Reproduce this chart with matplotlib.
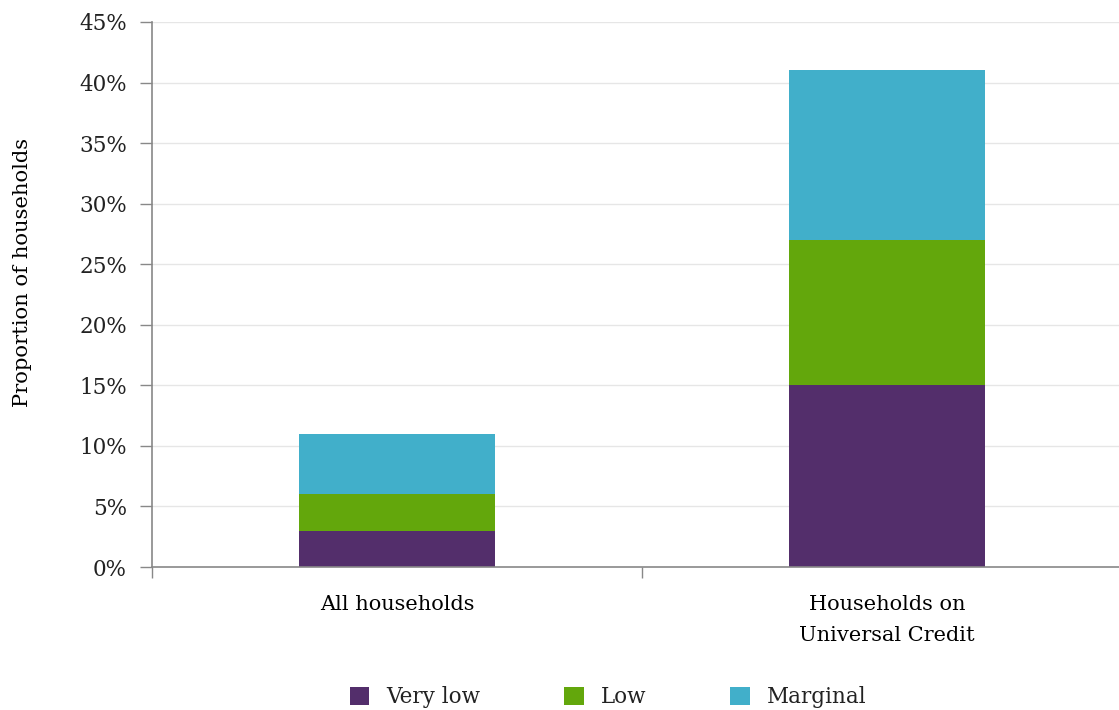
import matplotlib.pyplot as plt
from matplotlib.ticker import FuncFormatter

# Food security among households, share of each group
groups     = ['All households', 'Households on\nUniversal Credit']
levels     = ['Very low', 'Low', 'Marginal']
very_low   = [3, 15]
low        = [3, 12]
marginal   = [5, 14]
colours    = ['#532e6b', '#63a70c', '#41afca']
y_ticks    = list(range(0, 50, 5))

plt.rcParams['font.family'] = ['DejaVu Serif']
plt.rcParams['text.color'] = '#222222'

fig = plt.figure(figsize=(11.19, 7.10), dpi=100)
ax = fig.add_axes([152 / 1119, 143 / 710, 980 / 1119, 545 / 710])

index = list(range(len(groups)))
bar_width = 0.4
bottom = [0] * len(groups)
for name, values, colour in zip(levels, [very_low, low, marginal], colours):
    ax.bar(index, values, bar_width, bottom=bottom, color=colour, label=name, zorder=3)
    bottom = [b + v for b, v in zip(bottom, values)]

ax.set_xlim(-0.5, 1.5)
ax.set_ylim(0, 45)
ax.set_yticks(y_ticks)
ax.yaxis.set_major_formatter(FuncFormatter(lambda v, _: '%d%%' % v))
ax.set_xticks([-0.5, 0.5], minor=False)
ax.set_xticklabels([])
ax.set_xticks(index, minor=True)
ax.set_xticklabels(groups, minor=True, fontsize=15, linespacing=1.8)
ax.tick_params(axis='x', which='minor', length=0, pad=20)
ax.tick_params(axis='x', which='major', length=8, width=1, color='#888888')
ax.tick_params(axis='y', length=9, width=1, color='#888888', pad=9,
               labelsize=15.5, labelcolor='#222222')

ax.grid(axis='y', color='#e6e6e6', linewidth=1, zorder=0)
for side in ['top', 'right']:
    ax.spines[side].set_visible(False)
for side in ['left', 'bottom']:
    ax.spines[side].set_color('#888888')
    ax.spines[side].set_linewidth(1.2)
ax.spines['bottom'].set_zorder(4)

ax.set_ylabel('Proportion of households', fontsize=15.2)
ax.yaxis.set_label_coords(-120 / 980, (567 - 272) / 545)

fig.legend(loc='center', bbox_to_anchor=(608 / 1119, 13 / 710), ncol=3,
           frameon=False, fontsize=15.5, handlelength=0.9, handleheight=0.9,
           handletextpad=0.8, columnspacing=3.9, borderpad=0)

fig.savefig('out.png', dpi=100)
